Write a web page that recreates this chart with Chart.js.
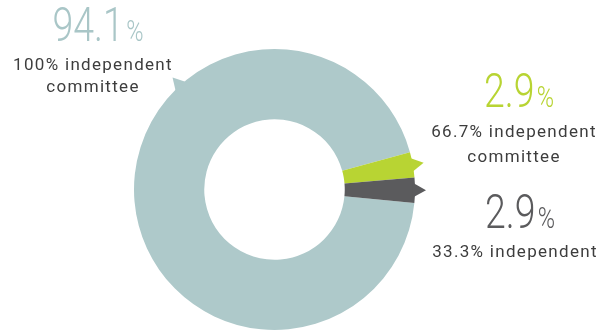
<!DOCTYPE html>
<html>
<head>
<meta charset="utf-8">
<script src="https://cdn.jsdelivr.net/npm/chart.js@4/dist/chart.umd.min.js"></script>
<style>
  html, body { margin: 0; padding: 0; background: #fff; }
  #wrap { width: 601px; height: 332px; }
</style>
</head>
<body>
<div id="wrap"><canvas id="boardChart" width="601" height="332"></canvas></div>
<script>
// committee make-up, share of boards
var categories = [
    ['100% independent', 'committee'],
    ['66.7% independent', 'committee'],
    ['33.3% independent']
];
var shares = [94.1, 2.9, 2.9];
var sliceColors = ['#aec9ca', '#b8d433', '#5b5b5d'];
var numberColors = ['#a9c6c7', '#b8d433', '#5b5b5d'];

// where each caption sits (x = centre of the block, y = baselines)
var captionSpots = [
    { x: 93, numY: 41, subY: 69.5, lineGap: 22 },
    { x: 514, numY: 107, subY: 137, lineGap: 24.5 },
    { x: 515, numY: 228, subY: 257, lineGap: 24 }
];
// small pointers on the ring; null = middle of the slice
var pointerAngles = [-132.3 * Math.PI / 180, null, null];

function drawNumber(ctx, value, x, y, color) {
    var squeeze = 0.78;
    var big = value.toFixed(1);
    ctx.save();
    ctx.fillStyle = color;
    ctx.textBaseline = 'alphabetic';
    ctx.textAlign = 'left';
    ctx.font = '300 48px Roboto';
    var wBig = ctx.measureText(big).width;
    ctx.font = '300 30px Roboto';
    var wPct = ctx.measureText('%').width;
    var gap = 3;
    var total = (wBig + gap + wPct) * squeeze;
    ctx.translate(x + 5 - total / 2, y);
    ctx.scale(squeeze, 1);
    ctx.font = '300 48px Roboto';
    ctx.fillText(big, 0, 0);
    ctx.font = '300 30px Roboto';
    ctx.fillText('%', wBig + gap, 0);
    ctx.restore();
}

var ringExtras = {
    id: 'ringExtras',
    afterDatasetsDraw: function(chart) {
        var ctx = chart.ctx;
        var meta = chart.getDatasetMeta(0);
        meta.data.forEach(function(arc, i) {
            var p = arc.getProps(['x', 'y', 'outerRadius', 'startAngle', 'endAngle'], true);
            var a = pointerAngles[i] !== null ? pointerAngles[i] : (p.startAngle + p.endAngle) / 2;
            var half = 7.5 / p.outerRadius;
            var rb = p.outerRadius - 2;
            var rt = p.outerRadius + 11;
            ctx.save();
            ctx.fillStyle = sliceColors[i];
            ctx.beginPath();
            ctx.moveTo(p.x + rb * Math.cos(a - half), p.y + rb * Math.sin(a - half));
            ctx.lineTo(p.x + rt * Math.cos(a), p.y + rt * Math.sin(a));
            ctx.lineTo(p.x + rb * Math.cos(a + half), p.y + rb * Math.sin(a + half));
            ctx.closePath();
            ctx.fill();
            ctx.restore();
        });

        categories.forEach(function(lines, i) {
            var spot = captionSpots[i];
            drawNumber(ctx, shares[i], spot.x, spot.numY, numberColors[i]);
            ctx.save();
            ctx.fillStyle = '#3d3d3d';
            ctx.font = '400 17px Roboto';
            ctx.letterSpacing = '1.3px';
            ctx.textAlign = 'center';
            ctx.textBaseline = 'alphabetic';
            lines.forEach(function(line, k) {
                ctx.fillText(line, spot.x, spot.subY + k * spot.lineGap);
            });
            ctx.restore();
        });
    }
};

var ctx = document.getElementById('boardChart').getContext('2d');
var boardChart = new Chart(ctx, {
    type: 'doughnut',
    data: {
        labels: categories.map(function(l) { return l.join(' '); }),
        datasets: [{
            data: shares,
            backgroundColor: sliceColors,
            borderWidth: 0,
            hoverOffset: 0
        }]
    },
    options: {
        responsive: false,
        animation: false,
        rotation: 95.5,
        cutout: '50%',
        layout: {
            padding: { left: 134, top: 49, right: 186, bottom: 2 }
        },
        plugins: {
            legend: { display: false },
            tooltip: { enabled: false }
        }
    },
    plugins: [ringExtras]
});
</script>
</body>
</html>
